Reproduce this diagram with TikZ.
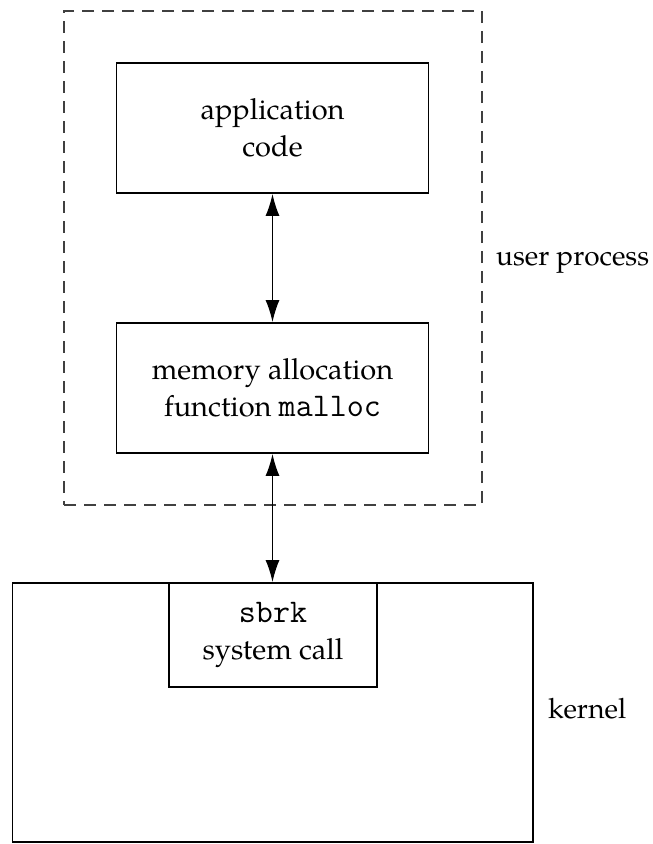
\documentclass[tikz,border=0pt]{standalone}
\usepackage{fontspec}
\setmainfont{TeX Gyre Pagella}
\setmonofont{Latin Modern Mono}[Scale=1.14]
\usetikzlibrary{arrows.meta}
\begin{document}
\begin{tikzpicture}[x=1pt,y=-1pt,
  box/.style={draw=black,line width=1.8pt,align=center,inner sep=0pt,
    font=\fontsize{29}{37.5}\selectfont},
  lbl/.style={inner sep=0pt,anchor=base west,font=\fontsize{28}{37}\selectfont},
  conn/.style={line width=1.4pt,{Latex[length=22pt,width=14pt]}-{Latex[length=22pt,width=14pt]}}]
\useasboundingbox (0,0) rectangle (653,844);
\node[draw=black!75,line width=1.8pt,dash pattern=on 12pt off 8pt,inner sep=0pt,
  minimum width=418pt,minimum height=494pt] (user) at (273,258) {};
\node[box,minimum width=312pt,minimum height=130pt] (app) at (272.5,128) {application\\code};
\node[box,minimum width=312pt,minimum height=130pt] (malloc) at (272.5,388) {memory allocation\\function \texttt{malloc}};
\node[box,minimum width=520.5pt,minimum height=259pt] (kernel) at (272.75,712.5) {};
\node[box,minimum width=208pt,minimum height=104pt] (sbrk) at (273,635) {\texttt{sbrk}\\system call};
\node[lbl] (ulbl) at (496,265) {user process};
\node[lbl] (klbl) at (548,718) {kernel};
\draw[conn] (app.south) -- (malloc.north);
\draw[conn] (malloc.south) -- (malloc.south |- kernel.north);
\end{tikzpicture}
\end{document}
